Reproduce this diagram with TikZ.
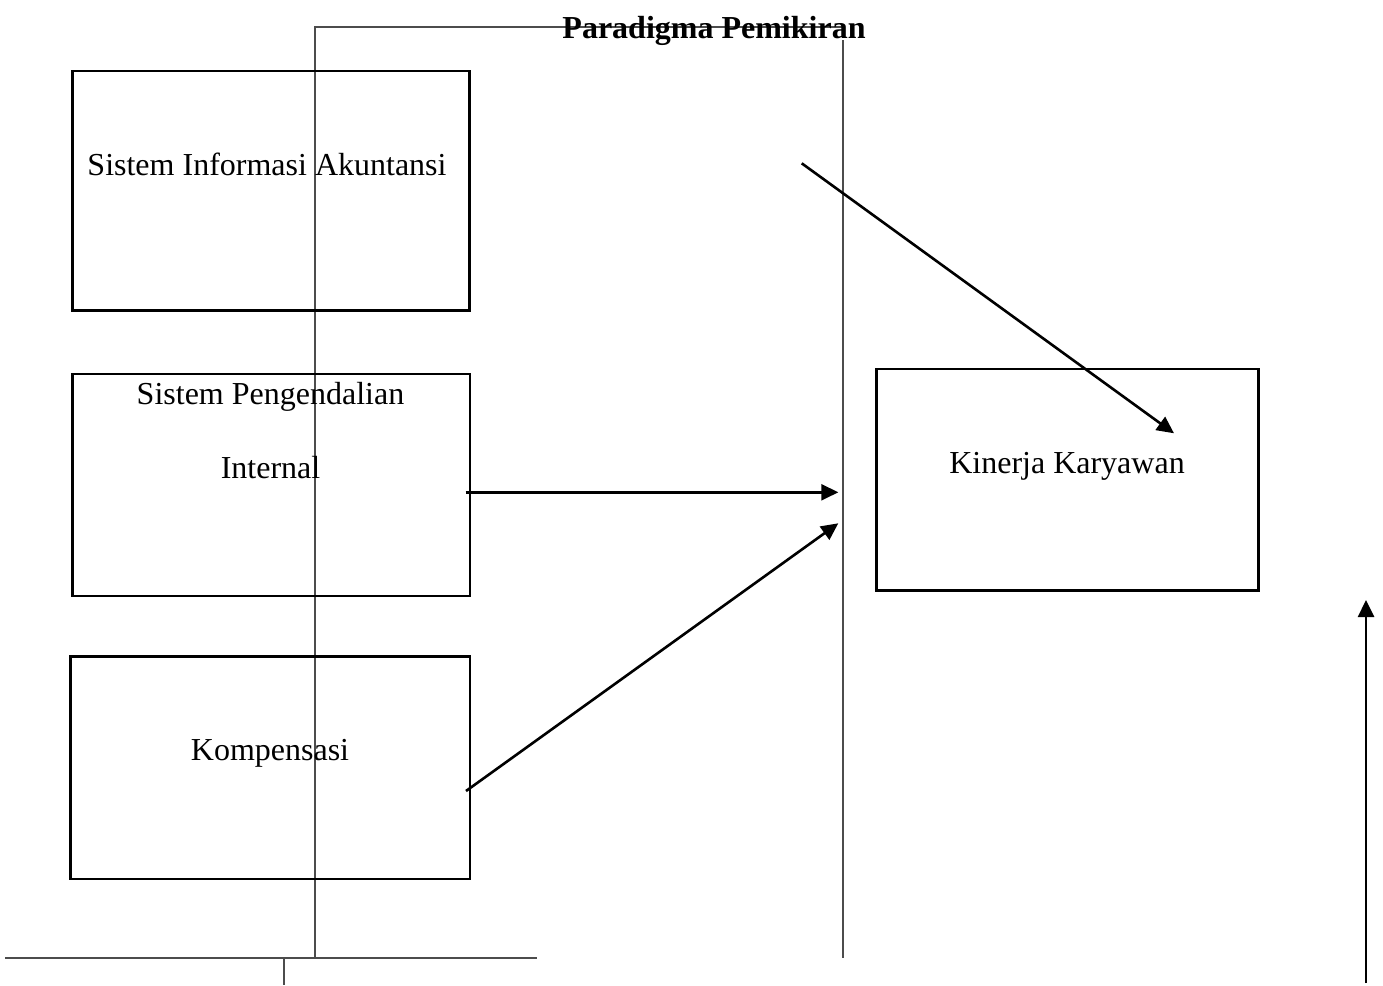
\documentclass[tikz,border=0pt]{standalone}
\usepackage{fontspec}
\setmainfont{Liberation Serif}
\usetikzlibrary{arrows.meta}
\begin{document}
\begin{tikzpicture}[x=1pt,y=-1pt,
  box/.style={draw=black,line width=2.8pt,inner sep=0pt},
  guide/.style={draw=black!70,line width=1.5pt},
  arr/.style={draw=black,line width=2.6pt,-{Triangle[length=17pt,width=16pt]}},
  lbl/.style={font=\fontsize{32}{38}\selectfont,inner sep=0pt,anchor=base},
  ttl/.style={font=\fontsize{32}{38}\selectfont\bfseries,inner sep=0pt,anchor=base}]
\useasboundingbox (0,0) rectangle (1383,985);

% guide lines
\coordinate (gTL) at (315,27);
\coordinate (gTR) at (843,27);
\coordinate (gRT) at (843,40);
\coordinate (gRB) at (843,958);
\coordinate (gLB) at (315,958);
\coordinate (gBL) at (5,958);
\coordinate (gBR) at (537,958);
\coordinate (gTk) at (284,958);
\coordinate (gTkB) at (284,985);
\draw[guide] (gLB) -- (gTL) -- (gTR);
\draw[guide] (gRT) -- (gRB);
\draw[guide] (gBL) -- (gBR);
\draw[guide] (gTk) -- (gTkB);

% boxes
\node[box,minimum width=396.6pt,minimum height=239.7pt] (sia) at (271,190.85) {};
\node[box,minimum width=397.3pt,minimum height=222pt] (spi) at (271.35,485) {};
\node[box,minimum width=399.3pt,minimum height=222.3pt] (komp) at (270.35,767.85) {};
\node[box,minimum width=381.6pt,minimum height=221.7pt] (kin) at (1067.5,479.85) {};

% labels
\node[ttl] (title) at (714,38) {Paradigma Pemikiran};
\node[lbl] (siaT) at (267,175) {Sistem Informasi Akuntansi};
\node[lbl] (spiT1) at (270.5,404) {Sistem Pengendalian};
\node[lbl] (spiT2) at (270.5,478.3) {Internal};
\node[lbl] (kompT) at (270,760) {Kompensasi};
\node[lbl] (kinT) at (1067,473.3) {Kinerja Karyawan};

% arrows
\coordinate (a1s) at (801.7,163.3);
\coordinate (a1e) at (1174,433.3);
\coordinate (a2s) at (465.7,492.3);
\coordinate (a2e) at (838.3,492.3);
\coordinate (a3s) at (466,791);
\coordinate (a3e) at (838.3,523.3);
\coordinate (a4s) at (1366,983);
\coordinate (a4e) at (1366,600);
\draw[arr] (a1s) -- (a1e);
\draw[arr] (a2s) -- (a2e);
\draw[arr] (a3s) -- (a3e);
\draw[arr] (a4s) -- (a4e);
\end{tikzpicture}
\end{document}
